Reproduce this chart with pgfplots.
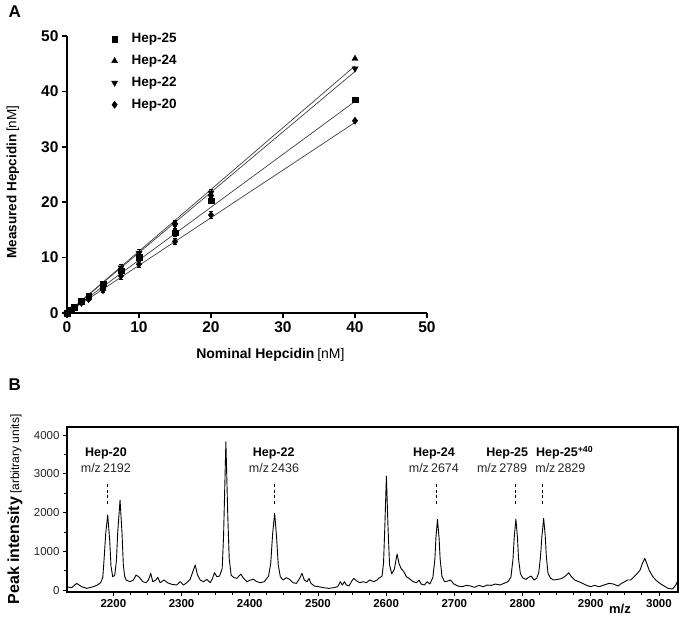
\documentclass[border=0pt]{standalone}
\usepackage{fontspec}
\setmainfont{Liberation Sans}
\usepackage{pgfplots}
\usepackage{pgfplotstable}
\pgfplotsset{compat=1.18}
\newcommand{\fs}[1]{\fontsize{#1}{#1}\selectfont}

\pgfplotstableread{
x y e
0 0 0
0.5 0.5 0
1 1.0 0
2 2.1 0.2
3 3.1 0.3
5 5.3 0.4
7.5 7.6 0.6
10 10.1 0.6
15 14.5 0.6
20 20.3 0.6
40 38.5 0
}\hepTwentyFive
\pgfplotstableread{
x y e
0 0 0
0.5 0.4 0
1 0.9 0
2 1.9 0.2
3 2.7 0.3
5 4.4 0.4
7.5 7.9 0.6
10 10.6 0.6
15 16.2 0.6
20 21.4 0.6
40 45.9 0
}\hepTwentyFour
\pgfplotstableread{
x y e
0 0 0
0.5 0.4 0
1 0.8 0
2 1.8 0.2
3 2.6 0.3
5 4.1 0.4
7.5 8.2 0.6
10 10.8 0.6
15 15.9 0.6
20 21.7 0.6
40 44.1 0
}\hepTwentyTwo
\pgfplotstableread{
x y e
0 0 0
0.5 0.4 0
1 0.9 0
2 1.9 0.2
3 2.5 0.3
5 4.6 0.4
7.5 6.7 0.6
10 8.8 0.6
15 12.9 0.6
20 17.7 0.6
40 34.7 0
}\hepTwenty

\pgfplotstableread{
mz I
2132 80
2138.8 61
2146.2 173
2153.5 87
2160.9 44
2170.7 87
2176.5 130
2181.4 190
2184.5 330
2186.3 775
2188.8 1463
2191.7 1936
2194.6 1291
2196.5 620
2199.0 345
2202 380
2204.5 760
2206.4 1500
2209.8 2323
2212.7 1463
2214.6 650
2216.5 360
2218.6 259
2224.5 216
2229.4 259
2233.3 388
2238.2 328
2243.1 216
2248 190
2251.4 259
2254.8 431
2257.8 216
2262.2 259
2265.1 328
2268.6 190
2274.4 259
2279.3 190
2285.7 147
2293 130
2297.9 216
2302.8 130
2307.7 190
2312.6 276
2316.5 474
2320 646
2323.4 388
2327.3 259
2332.2 216
2337.1 276
2342 190
2345.4 302
2348.3 448
2351.8 345
2355.7 362
2359.6 560
2361.6 1400
2365 3828
2367.8 1900
2369.9 800
2372.8 380
2377.2 319
2381.1 302
2387 414
2390.9 302
2395.8 216
2400.7 259
2405.6 276
2410.5 216
2415.4 190
2421.3 216
2427.6 360
2430.8 700
2433.6 1463
2436.5 1979
2439.3 1377
2441.8 650
2444.8 345
2448.7 259
2453.6 319
2458.5 276
2463.4 190
2468.3 173
2473.2 302
2476.6 431
2480 259
2484 216
2486.9 302
2489.8 173
2494.7 104
2501.1 87
2508.4 61
2515.8 44
2523.1 61
2529 87
2532.9 216
2535.8 130
2538.8 216
2541.7 130
2545.6 104
2549 216
2552.5 302
2556.4 242
2561.3 190
2566.2 216
2571.1 190
2576 259
2581.8 216
2586.7 259
2589.1 302
2594 360
2596.2 700
2598.2 1700
2600.4 2942
2602.6 1700
2605 650
2608.2 420
2612.1 540
2616 930
2619 680
2621.9 560
2625.9 474
2629.8 345
2634.7 285
2639.6 216
2644.5 190
2648.4 259
2651.3 156
2656.2 130
2660.1 216
2664 156
2668.5 320
2671.5 800
2673 1350
2675.3 1824
2677.6 1350
2679.2 800
2681.8 360
2685.6 216
2690.5 233
2694.4 259
2699.3 156
2705.2 104
2711.5 87
2717.9 121
2723.8 104
2729.6 70
2736 121
2742.4 87
2748.2 130
2754.1 121
2760.5 156
2766.8 130
2772.7 173
2778.6 216
2783 330
2786 800
2787.8 1350
2790.3 1833
2792.6 1350
2794.2 800
2796.8 431
2800.1 319
2805 276
2808.9 328
2812.8 362
2816.8 259
2820.7 302
2823.8 450
2826.3 850
2828.5 1400
2831 1850
2833.3 1400
2835 850
2837.4 431
2841.2 302
2846.1 259
2852 276
2857.9 302
2862.8 362
2867.7 448
2871.6 345
2876.5 259
2882.4 216
2888.2 173
2894.1 121
2900 87
2905.8 121
2912.2 87
2919.5 130
2926.9 173
2933.3 156
2940.1 104
2945 173
2949.9 216
2953.8 259
2958.7 259
2963.6 345
2968.5 431
2972.4 517
2975.8 689
2979.3 818
2982.2 689
2985.6 517
2990.5 362
2995.4 259
3001.3 173
3007.7 104
3013.5 44
3019.9 27
3024.8 130
3028 259
}\spectrum

\begin{document}
\begin{tikzpicture}[x=1pt,y=1pt]
\useasboundingbox (0,0) rectangle (685,632);
\node[anchor=north west,font=\bfseries\fs{17}] at (5,630) {A};
\node[anchor=north west,font=\bfseries\fs{17}] at (5,257) {B};

% ---------------- Panel A ----------------
\begin{axis}[
  at={(67pt,319pt)}, anchor=south west, scale only axis,
  width=360pt, height=277pt,
  xmin=0, xmax=50, ymin=0, ymax=50,
  xtick={0,10,...,50}, ytick={0,10,...,50},
  axis x line*=bottom, axis y line*=left,
  axis line style={line width=1.8pt,-},
  tick align=outside, major tick length=5pt,
  tick style={line width=1.5pt,black},
  ticklabel style={font=\bfseries\fs{15.5}},
  /pgf/number format/assume math mode=true,
  xlabel={{\bfseries\fs{14}Nominal Hepcidin} {\fs{14}[nM]}},
  xlabel style={at={(axis description cs:0.565,-0.152)}, anchor=center},
  ylabel={{\bfseries\fs{13.5}Measured Hepcidin} {\fs{13.5}[nM]}},
  ylabel style={at={(axis description cs:-0.15,0.473)}, anchor=center},
  clip=false,
  legend style={at={(axis description cs:0.115,1.024)}, anchor=north west,
    draw=none, fill=none, font=\bfseries\fs{13.5}, row sep=7pt,
    /tikz/every odd column/.append style={column sep=12pt}},
  legend cell align=left,
]
\addplot[forget plot, black!75, line width=0.7pt] coordinates {(0,0) (40,38.2)};
\addplot[forget plot, black!75, line width=0.7pt] coordinates {(0,0) (40,44.6)};
\addplot[forget plot, black!75, line width=0.7pt] coordinates {(0,0) (40,43.6)};
\addplot[forget plot, black!75, line width=0.7pt] coordinates {(0,0) (40,34.4)};

\addplot[only marks, mark=square*, mark size=2.8pt, black,
  error bars/.cd, y dir=both, y explicit, error mark options={rotate=90, mark size=2pt, line width=0.8pt}]
  table[x=x, y=y, y error=e] {\hepTwentyFive};
\addlegendentry{Hep-25}
\addplot[only marks, mark=triangle*, mark size=3.5pt, black,
  error bars/.cd, y dir=both, y explicit, error mark options={rotate=90, mark size=2pt, line width=0.8pt}]
  table[x=x, y=y, y error=e] {\hepTwentyFour};
\addlegendentry{Hep-24}
\addplot[only marks, mark=triangle*, mark size=3.5pt, mark options={rotate=180}, black,
  error bars/.cd, y dir=both, y explicit, error mark options={rotate=90, mark size=2pt, line width=0.8pt}]
  table[x=x, y=y, y error=e] {\hepTwentyTwo};
\addlegendentry{Hep-22}
\addplot[only marks, mark=diamond*, mark size=3.6pt, black,
  error bars/.cd, y dir=both, y explicit, error mark options={rotate=90, mark size=2pt, line width=0.8pt}]
  table[x=x, y=y, y error=e] {\hepTwenty};
\addlegendentry{Hep-20}
\end{axis}

% ---------------- Panel B ----------------
\begin{axis}[
  at={(67pt,40pt)}, anchor=south west, scale only axis,
  width=611pt, height=165pt,
  xmin=2132, xmax=3028, ymin=-50, ymax=4210,
  xtick={2200,2300,...,3000}, ytick={0,1000,...,4000},
  minor x tick num=3, minor y tick num=1,
  tick align=outside, xtick pos=left, ytick pos=left,
  axis line style={line width=2.2pt},
  major tick length=4pt, minor tick length=3pt,
  tick style={line width=0.8pt,black},
  x tick label style={font=\bfseries\fs{11.5}},
  y tick label style={font=\fs{11.5}, text=black!85},
  /pgf/number format/1000 sep={},
  /pgf/number format/assume math mode=true,
  xlabel={\bfseries\fs{13}m/z},
  xlabel style={at={(axis description cs:0.905,-0.1)}, anchor=center},
  ylabel={{\bfseries\fs{16}Peak intensity} {\fs{12}[arbitrary units]}},
  ylabel style={at={(axis description cs:-0.085,0.5)}, anchor=center},
]
\addplot[black, line width=0.9pt, line join=round] table[x=mz, y=I] {\spectrum};

\addplot[black, line width=0.9pt, dash pattern=on 3pt off 2.5pt] coordinates {(2192,2230) (2192,2780)};
\addplot[black, line width=0.9pt, dash pattern=on 3pt off 2.5pt] coordinates {(2436,2230) (2436,2780)};
\addplot[black, line width=0.9pt, dash pattern=on 3pt off 2.5pt] coordinates {(2674,2230) (2674,2780)};
\addplot[black, line width=0.9pt, dash pattern=on 3pt off 2.5pt] coordinates {(2789,2230) (2789,2780)};
\addplot[black, line width=0.9pt, dash pattern=on 3pt off 2.5pt] coordinates {(2829,2230) (2829,2780)};

\node[font=\bfseries\fs{12.5}] at (axis cs:2189,3540) {Hep-20};
\node[font=\fs{12.5}, text=black!85] at (axis cs:2189,3140) {m/z\,2192};
\node[font=\bfseries\fs{12.5}] at (axis cs:2435,3540) {Hep-22};
\node[font=\fs{12.5}, text=black!85] at (axis cs:2435.5,3140) {m/z\,2436};
\node[font=\bfseries\fs{12.5}] at (axis cs:2670,3540) {Hep-24};
\node[font=\fs{12.5}, text=black!85] at (axis cs:2670,3140) {m/z\,2674};
\node[font=\bfseries\fs{12.5}] at (axis cs:2777.6,3540) {Hep-25};
\node[font=\fs{12.5}, text=black!85] at (axis cs:2770,3140) {m/z\,2789};
\node[font=\bfseries\fs{12.5}] at (axis cs:2861.8,3540) {Hep-25\textsuperscript{+40}};
\node[font=\fs{12.5}, text=black!85] at (axis cs:2855.5,3140) {m/z\,2829};
\end{axis}
\end{tikzpicture}
\end{document}
